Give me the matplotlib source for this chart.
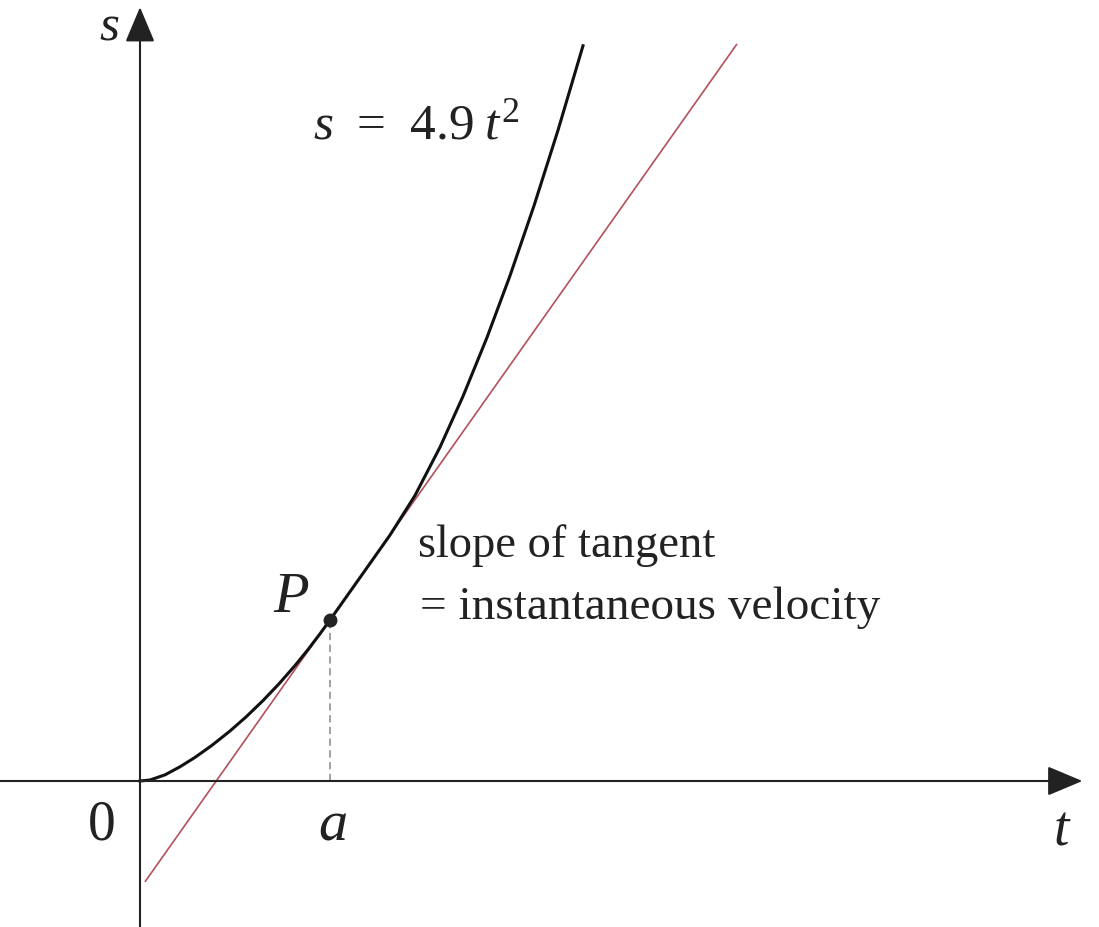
# Tangent to s = 4.9t^2 at P: slope of tangent = instantaneous velocity
import matplotlib
matplotlib.use("Agg")
import matplotlib.pyplot as plt

plt.rcParams["mathtext.fontset"] = "custom"
plt.rcParams["mathtext.rm"] = "Liberation Serif"
plt.rcParams["mathtext.it"] = "Liberation Serif:italic"

# curve points (t, s), a = 1
curve_t = [0.0, 0.0526, 0.1316, 0.2105, 0.2895, 0.3789, 0.4737, 0.5579,
           0.6474, 0.7316, 0.8158, 0.8842, 0.9474, 1.0, 1.1579, 1.3158,
           1.4474, 1.5789, 1.70, 1.8263, 1.9474, 2.0737, 2.20, 2.3316]
curve_s = [0.0, 0.030, 0.187, 0.433, 0.718, 1.086, 1.522, 1.949,
           2.447, 2.958, 3.513, 3.999, 4.480, 4.900, 6.191, 7.483,
           8.690, 10.158, 11.708, 13.497, 15.377, 17.506, 19.803, 22.375]

# tangent line ends
tan_t = [0.026, 3.142]
tan_s = [-3.07, 22.43]

# point P
a = 1.0
p_s = 4.9

W, H = 1099, 928
fig = plt.figure(figsize=(W / 100, H / 100), dpi=100)
ax = fig.add_axes([0, 0, 1, 1])
ax.set_xlim(-140 / 190, 959 / 190)
ax.set_ylim(-146 / 32.86, 782 / 32.86)
ax.axis("off")

# axes with arrows
head = dict(arrowstyle="-|>,head_length=1.0,head_width=0.42", lw=1.5,
            color="#222222", mutation_scale=22, shrinkA=0, shrinkB=0)
ax.annotate("", xy=(4.96, 0), xytext=(-140 / 190, 0), arrowprops=head)
ax.annotate("", xy=(0, 23.55), xytext=(0, -146 / 32.86), arrowprops=head)

# tangent and curve
ax.plot(tan_t, tan_s, color="#b4505a", lw=1.2, solid_capstyle="butt")
ax.plot(curve_t, curve_s, color="#111111", lw=2.2, solid_joinstyle="round")

# dashed drop line and point
ax.plot([a, a], [0, p_s], color="#9a9a9a", lw=1.3, linestyle=(0, (4, 2.5)))
ax.plot([a], [p_s], "o", color="#222222", ms=9)


def lab(x, y, s, size, **kw):
    fig.text(x / W, 1 - y / H, s, fontsize=size, va="baseline",
             family="Liberation Serif", color="#222222", **kw)


lab(99, 40, "$s$", 37)
lab(1053, 845, "$t$", 40)
lab(88, 840, "0", 40)
lab(318, 840, "$a$", 42)
lab(273, 612, "$P$", 42)
lab(313, 139, r"$s\;\,=\;\,4.9\;t^{2}$", 37)
lab(418, 557, "slope of tangent", 33.5)
lab(420, 619, "= instantaneous velocity", 34)

fig.savefig("out.png", dpi=100, facecolor="white")
